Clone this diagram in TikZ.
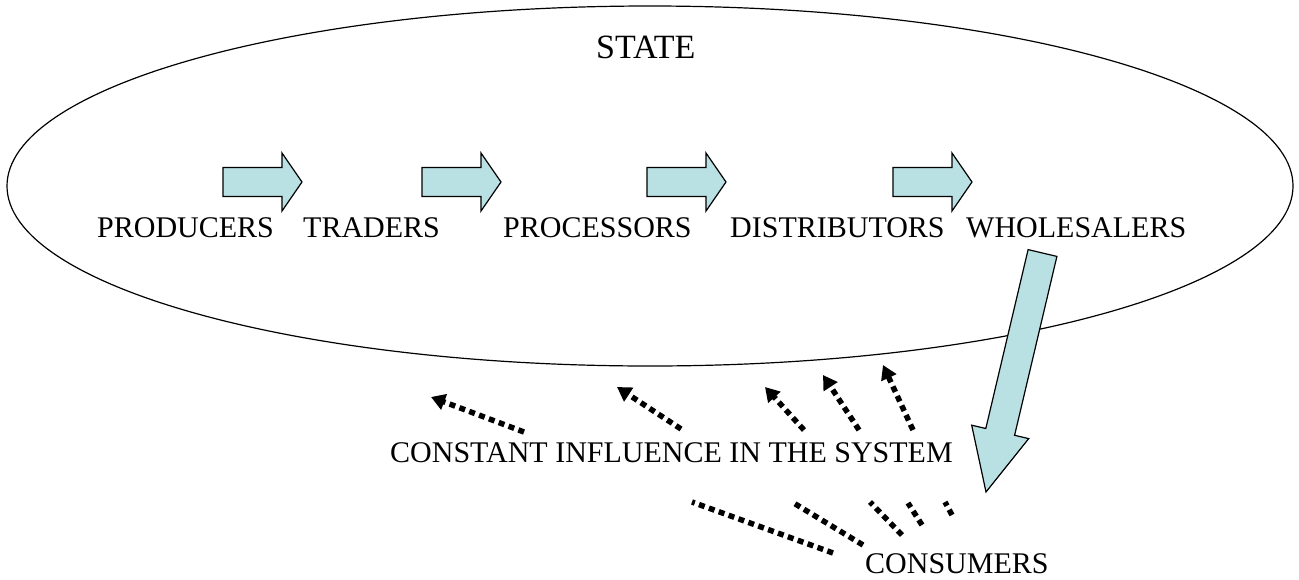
\documentclass[tikz,border=0pt]{standalone}
\usepackage{fontspec}
\setmainfont{Liberation Serif}
\usetikzlibrary{arrows.meta}
\definecolor{arrowfill}{RGB}{185,224,227}
\begin{document}
\begin{tikzpicture}[x=1pt,y=-1pt,
  lbl/.style={inner sep=0pt, anchor=base west, font=\fontsize{30}{36}\selectfont},
  blockarrow/.style={draw=black, line width=1.2pt, fill=arrowfill, line join=miter},
  infl/.style={line width=5.5pt, dash pattern=on 6pt off 4.5pt, -{Triangle[length=14pt,width=16pt]}},
  inflline/.style={line width=5.5pt, dash pattern=on 6pt off 4.5pt}]
\useasboundingbox (0,0) rectangle (1299,579);
\fill[white] (0,0) rectangle (1299,579);
\draw[line width=1.2pt] (650,186) ellipse [x radius=643pt, y radius=180pt];
% horizontal block arrows
\foreach \x in {223,422,647,893}{
  \draw[blockarrow] (\x,167.5) -- ({\x+59},167.5) -- ({\x+59},153) -- ({\x+79},182)
     -- ({\x+59},211) -- ({\x+59},196.5) -- (\x,196.5) -- cycle;
}
% big down arrow
\draw[blockarrow] (1028.1,249.6) -- (1056.9,256.4) -- (1014.6,435.3) -- (1028.7,438.6)
   -- (986,492) -- (971.7,425.2) -- (985.8,428.5) -- cycle;
% labels
\node[lbl, font=\fontsize{34}{40}\selectfont] (state) at (596,58) {STATE};
\node[lbl] (producers) at (97,237) {PRODUCERS};
\node[lbl] (traders) at (303,237) {TRADERS};
\node[lbl] (processors) at (503,237) {PROCESSORS};
\node[lbl] (distributors) at (730,237) {DISTRIBUTORS};
\node[lbl] (wholesalers) at (966,237) {WHOLESALERS};
\node[lbl] (influence) at (390,462) {CONSTANT INFLUENCE IN THE SYSTEM};
\node[lbl] (consumers) at (865,573) {CONSUMERS};
% influence arrows
\coordinate (u1s) at (524,432); \coordinate (u1e) at (431,397);
\coordinate (u2s) at (681,429); \coordinate (u2e) at (617,387);
\coordinate (u3s) at (804,430); \coordinate (u3e) at (765,387);
\coordinate (u4s) at (859,430); \coordinate (u4e) at (823,375);
\coordinate (u5s) at (913,430); \coordinate (u5e) at (883,365);
\foreach \i in {1,...,5}{ \draw[infl] (u\i s) -- (u\i e); }
% consumer lines
\coordinate (l1s) at (833,553); \coordinate (l1e) at (692,502);
\coordinate (l2s) at (863,545); \coordinate (l2e) at (792,502);
\coordinate (l3s) at (902,535); \coordinate (l3e) at (870,502);
\coordinate (l4s) at (922,525); \coordinate (l4e) at (908,503);
\coordinate (l5s) at (952,515); \coordinate (l5e) at (945,502);
\foreach \i in {1,...,5}{ \draw[inflline] (l\i s) -- (l\i e); }
\end{tikzpicture}
\end{document}
